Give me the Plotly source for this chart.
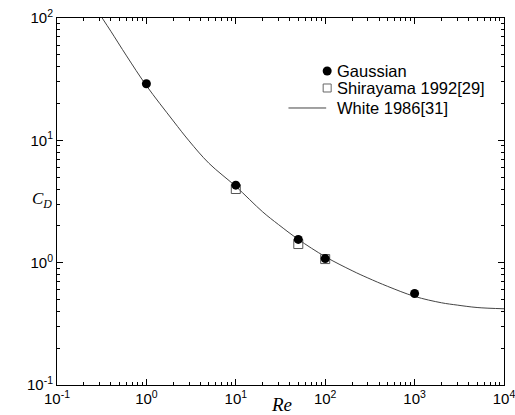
import plotly.graph_objects as go

# Data
gauss_re = [1, 10, 50, 100, 1000]
gauss_cd = [29, 4.3, 1.55, 1.08, 0.56]

shira_re = [10, 50, 100]
shira_cd = [4.0, 1.42, 1.07]

white_re = [0.32, 0.4, 0.6, 1, 2, 3, 5, 10, 20, 30, 50, 100, 200, 300, 500,
            1000, 2000, 3000, 5000, 10000]
white_cd = [100, 78, 49, 28, 14.4, 9.9, 6.5, 4.2, 2.6, 2.05, 1.55, 1.12, 0.86,
            0.75, 0.64, 0.53, 0.47, 0.45, 0.43, 0.42]

legend_labels = ["Gaussian", "Shirayama 1992[29]", "White 1986[31]"]

x_ticks = [0.1, 1, 10, 100, 1000, 10000]
x_ticktext = ["10<sup>-1</sup>", "10<sup>0</sup>", "10<sup>1</sup>", "10<sup>2</sup>",
              "10<sup>3</sup>", "10<sup>4</sup>"]
y_ticks = [0.1, 1, 10, 100]
y_ticktext = ["10<sup>-1</sup>", "10<sup>0</sup>", "10<sup>1</sup>", "10<sup>2</sup>"]


def minor_vals(lo, hi):
    vals = []
    for e in range(lo, hi):
        for m in range(2, 10):
            vals.append(m * 10 ** e)
    return vals


fig = go.Figure()
fig.add_trace(go.Scatter(x=white_re, y=white_cd, mode="lines", name=legend_labels[2],
                         line=dict(color="#444444", width=1, shape="spline")))
fig.add_trace(go.Scatter(x=shira_re, y=shira_cd, mode="markers", name=legend_labels[1],
                         marker=dict(symbol="square-open", size=9, color="#555555",
                                     line=dict(width=1))))
fig.add_trace(go.Scatter(x=gauss_re, y=gauss_cd, mode="markers", name=legend_labels[0],
                         marker=dict(symbol="circle", size=9, color="black")))

tick_font = dict(family="Liberation Sans, Arial", size=15, color="black")
axis_common = dict(type="log", showgrid=False, zeroline=False, showline=True,
                   linecolor="black", linewidth=1, mirror="ticks", ticks="inside",
                   ticklen=6, tickcolor="black", tickfont=tick_font,
                   ticklabeloverflow="allow")

fig.update_xaxes(range=[-1, 4], tickvals=x_ticks, ticktext=x_ticktext,
                 minor=dict(tickvals=minor_vals(-1, 4), ticks="inside", ticklen=3,
                            tickcolor="black", showgrid=False),
                 **axis_common)
fig.update_yaxes(range=[-1, 2], tickvals=y_ticks, ticktext=y_ticktext,
                 minor=dict(tickvals=minor_vals(-1, 2), ticks="inside", ticklen=3,
                            tickcolor="black", showgrid=False),
                 **axis_common)

serif = "Liberation Serif, Times New Roman"
fig.add_annotation(text="<i>C</i><sub><i>D</i></sub>", xref="paper", yref="paper",
                   x=-0.006, y=0.505, xanchor="right", yanchor="middle", showarrow=False,
                   font=dict(family=serif, size=17, color="black"))
fig.add_annotation(text="<i>Re</i>", xref="paper", yref="paper",
                   x=0.502, y=-0.052, xanchor="center", yanchor="middle", showarrow=False,
                   font=dict(family=serif, size=19, color="black"))

# Hand-drawn legend (compact line spacing as in the reference)
legend_font = dict(family="Liberation Sans, Arial", size=16.5, color="black")
leg_text_x = 0.622
leg_sym_x = 0.6044
leg_rows = [0.8556, 0.8093, 0.7548]
for lab, yy in zip(legend_labels, leg_rows):
    fig.add_annotation(text=lab, xref="paper", yref="paper", x=leg_text_x, y=yy,
                       xanchor="left", yanchor="middle", showarrow=False, font=legend_font)
fig.add_shape(type="circle", xref="paper", yref="paper", xsizemode="pixel",
              ysizemode="pixel", xanchor=leg_sym_x, yanchor=leg_rows[0],
              x0=-4.5, x1=4.5, y0=-4.5, y1=4.5, fillcolor="black",
              line=dict(color="black", width=0))
fig.add_shape(type="rect", xref="paper", yref="paper", xsizemode="pixel",
              ysizemode="pixel", xanchor=leg_sym_x, yanchor=leg_rows[1],
              x0=-4, x1=4, y0=-4, y1=4, fillcolor="rgba(0,0,0,0)",
              line=dict(color="#666666", width=1))
fig.add_shape(type="line", xref="paper", yref="paper", x0=0.5178, x1=0.6022,
              y0=leg_rows[2], y1=leg_rows[2], line=dict(color="#444444", width=1))

fig.update_layout(
    width=515, height=415,
    margin=dict(l=57, r=0, t=18, b=30),
    paper_bgcolor="white", plot_bgcolor="white",
    showlegend=False,
)

fig.write_html("out.html", config={"displayModeBar": False},
               post_script="document.body.style.margin='0';"
                           "document.body.style.overflow='hidden';")
